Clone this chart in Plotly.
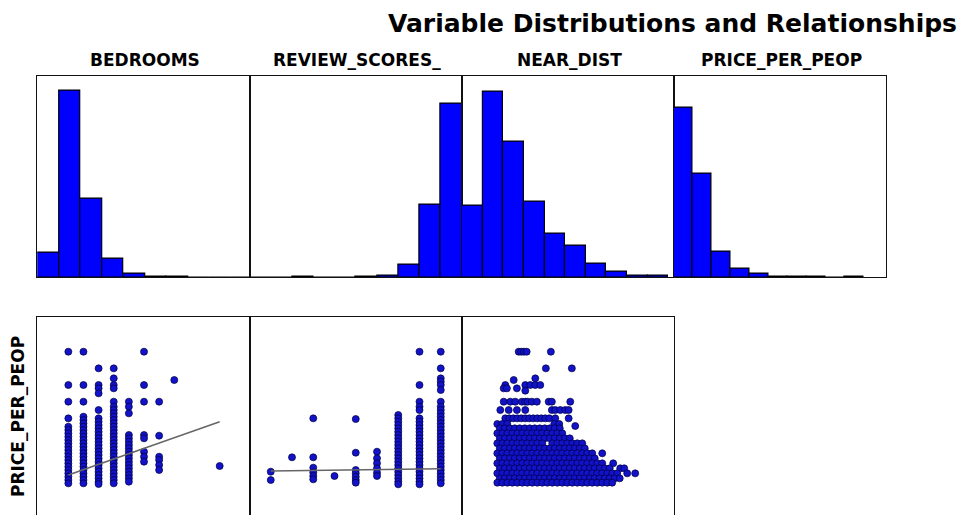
import plotly.graph_objects as go

TITLE = "Variable Distributions and Relationships"
COL_TITLES = ["BEDROOMS", "REVIEW_SCORES_", "NEAR_DIST", "PRICE_PER_PEOP"]
Y_LABEL = "PRICE_PER_PEOP"

# ---------------- histogram bin counts (10 bins each) ----------------
bins = [0, 1, 2, 3, 4, 5, 6, 7, 8, 9]
bedrooms_hist = [123, 935, 395, 95, 20, 5, 5, 0, 0, 0]
review_hist = [0, 0, 5, 0, 0, 5, 8, 65, 365, 870]
near_hist = [360, 928, 678, 378, 220, 157, 67, 27, 8, 8]
price_hist = [848, 516, 128, 45, 20, 5, 3, 3, 0, 3]

# ---------------- scatter: BEDROOMS vs PRICE_PER_PEOP ----------------
bedroom_values = [0, 1, 2, 3, 4, 5, 6, 7, 10]
bedroom_prices = [
    [400, 300, 250, 200, 175, 165, 155, 145, 135, 125, 115, 105, 95, 85, 75, 65, 55, 45, 35, 25, 15, 5],
    [400, 300, 250, 205, 195, 185, 175, 165, 155, 145, 135, 125, 115, 105, 95, 85, 75, 65, 55, 45, 35, 25, 15, 5],
    [350, 300, 290, 275, 225, 200, 190, 180, 170, 160, 150, 140, 130, 120, 110, 100, 90, 80, 70, 60, 50, 40, 30, 20, 10, 3],
    [350, 320, 300, 290, 250, 235, 225, 215, 205, 195, 185, 175, 165, 155, 145, 135, 125, 115, 105, 95, 85, 75, 65, 55, 45, 35, 25, 15, 5],
    [250, 235, 215, 150, 140, 130, 120, 110, 100, 90, 80, 70, 60, 50, 40, 30, 20, 10],
    [400, 300, 250, 150, 140, 100, 85, 70],
    [250, 148, 85, 75, 60, 45],
    [315],
    [57],
]
bedroom_fit_x = [0, 10]
bedroom_fit_y = [30, 190]

# ---------------- scatter: REVIEW_SCORES_ vs PRICE_PER_PEOP ----------------
review_values = [2, 3, 4, 5, 6, 7, 8, 9, 10]
review_prices = [
    [40, 15],
    [83],
    [200, 83, 52, 38, 27, 17],
    [27],
    [198, 97, 45, 35, 25, 15, 7],
    [100, 80, 65, 50, 37, 27],
    [210, 200, 190, 180, 170, 160, 150, 140, 130, 120, 110, 100, 90, 80, 70, 60, 50, 40, 30, 20, 10, 2],
    [400, 300, 250, 235, 225, 200, 190, 180, 170, 160, 150, 140, 130, 120, 110, 100, 90, 80, 70, 60, 50, 40, 30, 20, 10, 2],
    [400, 350, 320, 310, 300, 285, 250, 235, 225, 215, 205, 195, 185, 175, 165, 155, 145, 135, 125, 115, 105, 95, 85, 75, 65, 55, 45, 35, 25, 15, 5],
]
review_fit_x = [2, 10]
review_fit_y = [42, 49]

# ---------------- scatter: NEAR_DIST (km) vs PRICE_PER_PEOP ----------------
near_row_prices = [400, 350, 320, 315, 300, 290, 283, 250, 225, 200, 177,
                   183, 170, 155, 140, 125, 110, 95, 80, 65, 50, 35, 20, 7]
near_row_km = [
    [1.17, 1.3, 1.43, 1.57, 2.78],
    [2.53, 3.83],
    [2.0],
    [0.92],
    [0.5, 1.5, 1.75, 2.0, 2.25],
    [0.42, 0.58, 1.08],
    [1.5],
    [0.42, 0.75, 1.0, 1.33, 1.5, 1.62, 1.83, 2.08, 2.67, 2.83, 3.75],
    [0.25, 0.67, 1.08, 1.5, 2.83, 3.0, 3.25, 3.5, 3.67],
    [0.5, 0.7, 0.9, 1.1, 1.3, 1.5, 1.7, 1.9, 2.1, 2.3, 2.5, 2.7, 3.0, 3.67],
    [4.0],
    [0.1, 0.35, 0.6, 2.95, 3.2],
    [0.225, 0.475, 0.725, 0.975, 1.225, 1.475, 1.725, 1.975, 2.225, 2.475, 2.725, 2.975, 3.225],
    [0.1, 0.35, 0.6, 0.85, 1.1, 1.35, 1.6, 1.85, 2.1, 2.35, 2.6, 2.85, 3.1, 3.35],
    [0.225, 0.475, 0.725, 0.975, 1.225, 1.475, 1.725, 1.975, 2.225, 2.475, 2.725, 2.975, 3.225, 3.475, 3.725],
    [0.1, 0.35, 0.6, 0.85, 1.1, 1.35, 1.6, 1.85, 2.1, 2.35, 2.85, 3.1, 3.35, 3.6, 3.85, 4.1, 4.35],
    [0.225, 0.475, 0.725, 0.975, 1.225, 1.475, 1.725, 1.975, 2.225, 2.475, 2.725, 2.975, 3.225, 3.475, 3.725, 3.975, 4.225, 4.475],
    [0.1, 0.35, 0.6, 0.85, 1.1, 1.35, 1.6, 1.85, 2.1, 2.35, 2.6, 2.85, 3.1, 3.35, 3.6, 3.85, 4.1, 4.35, 4.6, 4.85, 5.35],
    [0.225, 0.475, 0.725, 0.975, 1.225, 1.475, 1.725, 1.975, 2.225, 2.475, 2.725, 2.975, 3.225, 3.475, 3.725, 3.975, 4.225, 4.475, 4.725, 4.975],
    [0.1, 0.35, 0.6, 0.85, 1.1, 1.35, 1.6, 1.85, 2.1, 2.35, 2.6, 2.85, 3.1, 3.35, 3.6, 3.85, 4.1, 4.35, 4.6, 4.85, 5.1, 5.35, 5.9],
    [0.225, 0.475, 0.725, 0.975, 1.225, 1.475, 1.725, 1.975, 2.225, 2.475, 2.725, 2.975, 3.225, 3.475, 3.725, 3.975, 4.225, 4.475, 4.725, 4.975, 5.225, 5.475, 5.725, 6.25, 6.45],
    [0.1, 0.35, 0.6, 0.85, 1.1, 1.35, 1.6, 1.85, 2.1, 2.35, 2.6, 2.85, 3.1, 3.35, 3.6, 3.85, 4.1, 4.35, 4.6, 4.85, 5.1, 5.35, 5.6, 5.85, 6.1, 6.6, 7.0],
    [0.225, 0.475, 0.725, 0.975, 1.225, 1.475, 1.725, 1.975, 2.225, 2.475, 2.725, 2.975, 3.225, 3.475, 3.725, 3.975, 4.225, 4.475, 4.725, 4.975, 5.225, 5.475, 5.725, 5.975, 6.225],
    [0.1, 0.35, 0.6, 0.85, 1.1, 1.35, 1.6, 1.85, 2.1, 2.35, 2.6, 2.85, 3.1, 3.35, 3.6, 3.85, 4.1, 4.35, 4.6, 4.85, 5.1, 5.35, 5.6, 5.85],
]

# ---------------- styling ----------------
W, H = 961, 515
FONT = "DejaVu Sans"
BAR_COLOR = "#0000ff"
PT_COLOR = "rgb(18,18,200)"
FRAME = "#111111"


def px_x(p):
    return p / W


def px_y(p):
    return 1 - p / H


col_px = [(37.3, 249.5), (249.5, 462.0), (462.0, 673.5), (673.5, 885.7)]
top_row = [px_y(277.3), px_y(75.7)]
bot_row = [0.0, px_y(316.7)]

fig = go.Figure()

hist_sets = [bedrooms_hist, review_hist, near_hist, price_hist]
hist_xranges = [[-0.5, 9.35], [-0.5, 9.5], [-0.5, 9.75], [-0.5, 10.65]]
for i, counts in enumerate(hist_sets):
    n = i + 1
    fig.add_trace(go.Bar(
        x=bins, y=counts, width=1.0,
        marker=dict(color=BAR_COLOR, line=dict(color="black", width=1.2)),
        xaxis=f"x{n}", yaxis=f"y{n}", showlegend=False, hoverinfo="skip"))


def flatten(xvals, ylists):
    xs, ys = [], []
    for xv, yl in zip(xvals, ylists):
        for yv in yl:
            xs.append(xv)
            ys.append(yv)
    return xs, ys


def flatten_rows(prices, kms):
    xs, ys = [], []
    for pv, kl in zip(prices, kms):
        for kv in kl:
            xs.append(kv)
            ys.append(pv)
    return xs, ys


marker = dict(color=PT_COLOR, size=7, line=dict(color="#000040", width=0.7))

bx, by = flatten(bedroom_values, bedroom_prices)
rx, ry = flatten(review_values, review_prices)
nx, ny = flatten_rows(near_row_prices, near_row_km)

fig.add_trace(go.Scatter(x=bx, y=by, mode="markers", marker=marker,
                         xaxis="x5", yaxis="y5", showlegend=False))
fig.add_trace(go.Scatter(x=bedroom_fit_x, y=bedroom_fit_y, mode="lines",
                         line=dict(color="#666666", width=1.5),
                         xaxis="x5", yaxis="y5", showlegend=False))
fig.add_trace(go.Scatter(x=rx, y=ry, mode="markers", marker=marker,
                         xaxis="x6", yaxis="y6", showlegend=False))
fig.add_trace(go.Scatter(x=review_fit_x, y=review_fit_y, mode="lines",
                         line=dict(color="#666666", width=1.5),
                         xaxis="x6", yaxis="y6", showlegend=False))
fig.add_trace(go.Scatter(x=nx, y=ny, mode="markers", marker=marker,
                         xaxis="x7", yaxis="y7", showlegend=False))

axis_common = dict(showgrid=False, zeroline=False, showticklabels=False,
                   ticks="", showline=True, linecolor=FRAME, linewidth=1.3)

layout = dict(
    width=W, height=H, margin=dict(l=0, r=0, t=0, b=0),
    paper_bgcolor="white", plot_bgcolor="white",
    bargap=0, showlegend=False,
)

for i in range(4):
    n = i + 1
    layout[f"xaxis{n}"] = dict(axis_common, domain=[px_x(col_px[i][0]), px_x(col_px[i][1])],
                               range=hist_xranges[i], anchor=f"y{n}", mirror=True)
    layout[f"yaxis{n}"] = dict(axis_common, domain=top_row, range=[0, 1008],
                               anchor=f"x{n}", mirror=True)

scatter_xranges = [[-2.05, 11.97], [1.0, 11.0], [-1.667, 8.917]]
for i in range(3):
    n = i + 5
    layout[f"xaxis{n}"] = dict(axis_common, domain=[px_x(col_px[i][0]), px_x(col_px[i][1])],
                               range=scatter_xranges[i], anchor=f"y{n}", side="top", mirror=False)
    layout[f"yaxis{n}"] = dict(axis_common, domain=bot_row, range=[-90, 505],
                               anchor=f"x{n}", mirror=True)

fig.update_layout(**layout)

annotations = [
    dict(text=f"<b>{TITLE}</b>", x=px_x(672.5), y=px_y(23), xref="paper", yref="paper",
         xanchor="center", yanchor="middle", showarrow=False,
         font=dict(family=FONT, size=25, color="black")),
]
for i, t in enumerate(COL_TITLES):
    cx = (col_px[i][0] + col_px[i][1]) / 2 + 1.5
    annotations.append(dict(text=f"<b>{t}</b>", x=px_x(cx), y=px_y(60), xref="paper", yref="paper",
                            xanchor="center", yanchor="middle", showarrow=False,
                            font=dict(family=FONT, size=17, color="black")))
annotations.append(dict(text=f"<b>{Y_LABEL}</b>", x=px_x(18), y=px_y(417), xref="paper", yref="paper",
                        xanchor="center", yanchor="middle", showarrow=False, textangle=-90,
                        font=dict(family=FONT, size=17, color="black")))
fig.update_layout(annotations=annotations)

fig.write_html("out.html")
